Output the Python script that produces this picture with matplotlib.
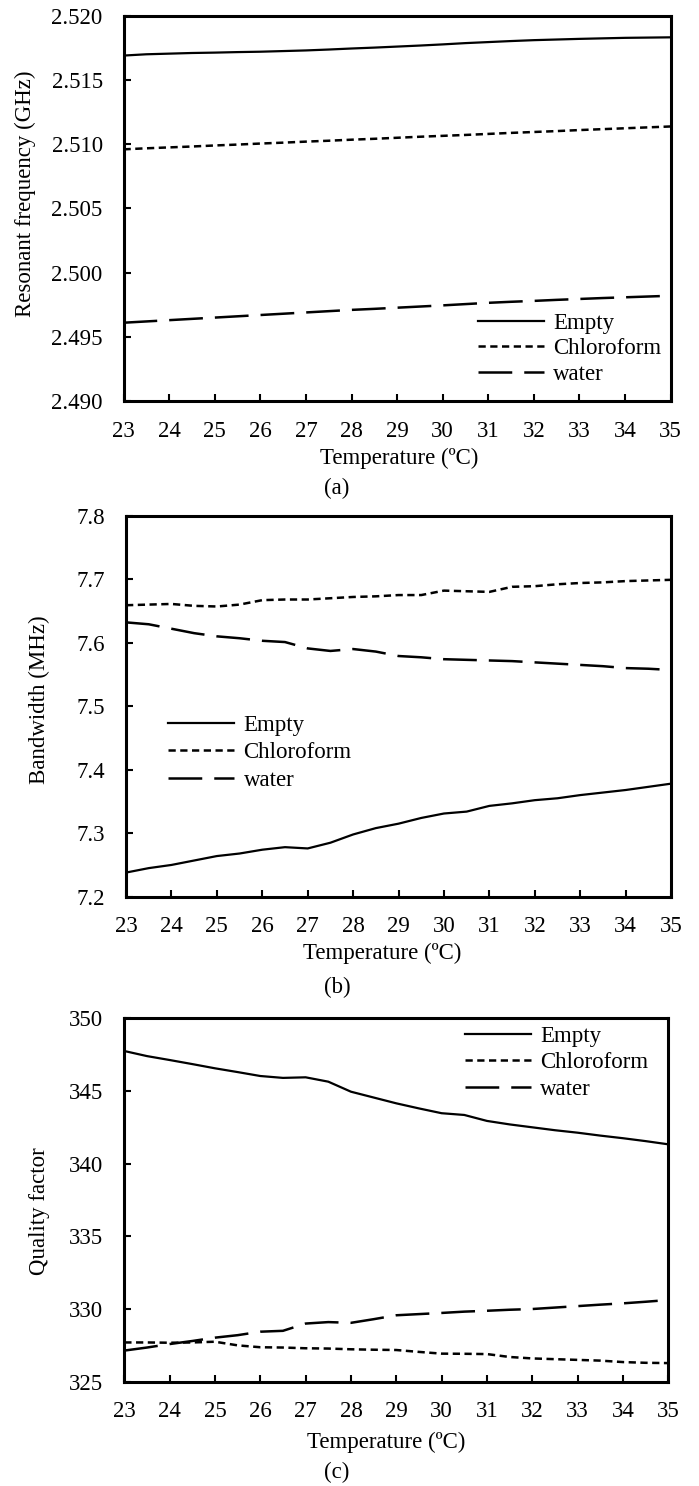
import matplotlib
matplotlib.use('Agg')
import matplotlib.pyplot as plt

plt.rcParams['font.family'] = 'Liberation Serif'
plt.rcParams['font.size'] = 16.5

# temperature sweep (ºC)
temperature = [23.0, 23.5, 24.0, 24.5, 25.0, 25.5, 26.0, 26.5, 27.0, 27.5, 28.0, 28.5,
               29.0, 29.5, 30.0, 30.5, 31.0, 31.5, 32.0, 32.5, 33.0, 33.5, 34.0, 34.5, 35.0]

# (a) resonant frequency, GHz
freq_empty = [2.51690, 2.51700, 2.51705, 2.51710, 2.51713, 2.51717, 2.51720, 2.51725, 2.51730,
              2.51737, 2.51745, 2.51752, 2.51760, 2.51768, 2.51777, 2.51787, 2.51795, 2.51803,
              2.51810, 2.51815, 2.51820, 2.51824, 2.51828, 2.51830, 2.51832]
freq_chloroform = [2.50960, 2.50968, 2.50975, 2.50982, 2.50990, 2.50997, 2.51005, 2.51012, 2.51020,
                   2.51027, 2.51035, 2.51042, 2.51050, 2.51058, 2.51065, 2.51072, 2.51080, 2.51088,
                   2.51095, 2.51102, 2.51110, 2.51117, 2.51124, 2.51131, 2.51138]
freq_water = [2.49610, 2.49620, 2.49630, 2.49640, 2.49650, 2.49660, 2.49670, 2.49680, 2.49690,
              2.49700, 2.49710, 2.49718, 2.49727, 2.49736, 2.49745, 2.49755, 2.49765, 2.49773,
              2.49780, 2.49788, 2.49795, 2.49802, 2.49808, 2.49814, 2.49820]

# (b) bandwidth, MHz
bw_empty = [7.238, 7.245, 7.250, 7.257, 7.264, 7.268, 7.274, 7.278, 7.276, 7.285, 7.298, 7.308,
            7.315, 7.324, 7.331, 7.334, 7.343, 7.347, 7.352, 7.355, 7.360, 7.364, 7.368, 7.373, 7.378]
bw_chloroform = [7.659, 7.660, 7.661, 7.658, 7.657, 7.660, 7.667, 7.668, 7.668, 7.670, 7.672, 7.673,
                 7.675, 7.675, 7.682, 7.681, 7.680, 7.688, 7.689, 7.692, 7.694, 7.695, 7.697, 7.698, 7.699]
bw_water = [7.632, 7.629, 7.622, 7.615, 7.610, 7.607, 7.603, 7.601, 7.591, 7.587, 7.590, 7.586,
            7.579, 7.577, 7.574, 7.573, 7.572, 7.571, 7.569, 7.567, 7.565, 7.563, 7.560, 7.559, 7.557]

# (c) quality factor
q_empty = [347.75, 347.40, 347.13, 346.85, 346.56, 346.30, 346.03, 345.90, 345.94, 345.64, 344.95,
           344.55, 344.15, 343.80, 343.47, 343.35, 342.94, 342.70, 342.50, 342.30, 342.13, 341.93,
           341.75, 341.55, 341.33]
q_chloroform = [327.70, 327.70, 327.68, 327.70, 327.75, 327.50, 327.37, 327.35, 327.30, 327.28, 327.23,
                327.20, 327.18, 327.05, 326.93, 326.92, 326.90, 326.70, 326.60, 326.55, 326.50, 326.45,
                326.35, 326.30, 326.28]
q_water = [327.14, 327.35, 327.59, 327.80, 328.03, 328.20, 328.44, 328.50, 329.00, 329.10, 329.05,
           329.30, 329.57, 329.65, 329.73, 329.82, 329.88, 329.95, 330.00, 330.10, 330.20, 330.30,
           330.39, 330.50, 330.62]

series_labels = ['Empty', 'Chloroform', 'water']
x_ticks = list(range(23, 36))


def draw_panel(ax, ys, ylim, yticks, yfmt, ylabel, ylab_pos, xlab_pos, legend_anchor, spacing):
    styles = [dict(linestyle='-', linewidth=1.6),
              dict(linestyle=(0, (2.9, 1.8)), linewidth=1.8),
              dict(linestyle=(0, (13.5, 4.8)), linewidth=1.8)]
    for y, lab, st in zip(ys, series_labels, styles):
        ax.plot(temperature, y, color='black', label=lab, **st)

    ax.set_xlim(23, 35)
    ax.set_ylim(*ylim)
    ax.set_xticks(x_ticks)
    ax.set_yticks(yticks)
    ax.set_yticklabels([yfmt.format(v) for v in yticks])
    ax.tick_params(axis='both', direction='in', length=5, width=1.5, labelsize=16.5)
    ax.tick_params(axis='x', pad=14)
    ax.tick_params(axis='y', pad=15)
    for sp in ax.spines.values():
        sp.set_linewidth(2.2)

    ax.set_xlabel('Temperature (ºC)', fontsize=16.5, va='center')
    ax.xaxis.set_label_coords(*xlab_pos)
    ax.set_ylabel(ylabel, fontsize=16.5, va='center')
    ax.yaxis.set_label_coords(*ylab_pos)

    ax.legend(loc='upper left', bbox_to_anchor=legend_anchor, frameon=False,
              fontsize=16.5, handlelength=2.9, handletextpad=0.4,
              labelspacing=spacing, borderpad=0, borderaxespad=0)


fig = plt.figure(figsize=(6.99, 14.86), dpi=100)

ax_a = fig.add_axes([0.1767, 0.7301, 0.7828, 0.2593])
draw_panel(ax_a, [freq_empty, freq_chloroform, freq_water], (2.490, 2.520),
           [2.490, 2.495, 2.500, 2.505, 2.510, 2.515, 2.520], '{:.3f}',
           'Resonant frequency (GHz)', (-0.18, 0.537), (0.5035, -0.148), (0.647, 0.229), 0.2)

ax_b = fig.add_axes([0.1803, 0.39657, 0.7797, 0.2564])
draw_panel(ax_b, [bw_empty, bw_chloroform, bw_water], (7.2, 7.8),
           [7.2, 7.3, 7.4, 7.5, 7.6, 7.7, 7.8], '{:.1f}',
           'Bandwidth (MHz)', (-0.158, 0.516), (0.47, -0.148), (0.077, 0.478), 0.28)

ax_c = fig.add_axes([0.1778, 0.07019, 0.7783, 0.24455])
draw_panel(ax_c, [q_empty, q_chloroform, q_water], (325, 350),
           [325, 330, 335, 340, 345, 350], '{:.0f}',
           'Quality factor', (-0.155, 0.47), (0.481, -0.166), (0.626, 0.980), 0.25)

# panel captions
for label, ypix in [('(a)', 488), ('(b)', 987), ('(c)', 1472)]:
    fig.text(337 / 699, 1 - ypix / 1486, label, ha='center', va='center', fontsize=16.5)

fig.savefig('out.png', dpi=100, facecolor='white')
